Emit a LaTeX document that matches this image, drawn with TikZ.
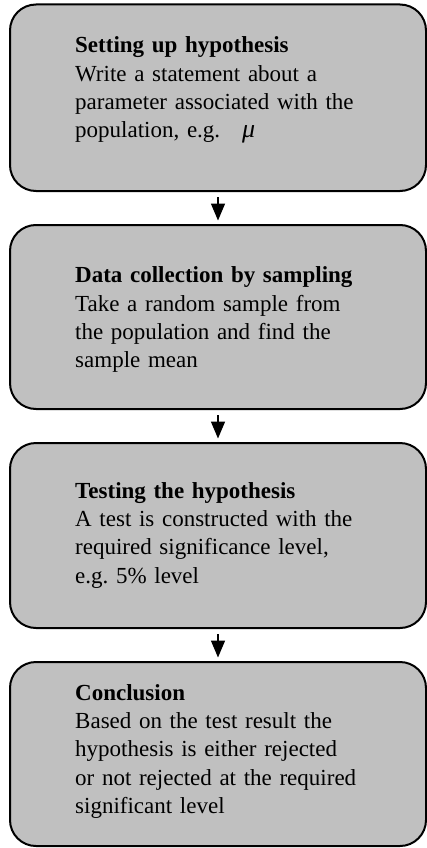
\documentclass[tikz,border=0pt]{standalone}
\usepackage{fontspec}
\setmainfont{Liberation Serif}
\usetikzlibrary{arrows.meta}
\definecolor{boxgray}{RGB}{192,192,192}
\frenchspacing
\tikzset{
  flowbox/.style={draw=black, line width=2pt, fill=boxgray, rounded corners=26pt,
    minimum width=416pt, anchor=north west, inner sep=0pt},
  boxtext/.style={anchor=base west, inner sep=0pt, text width=345pt, align=left,
    font=\fontsize{23pt}{28.4pt}\selectfont\frenchspacing},
  flowarrow/.style={line width=1.5pt, -{Triangle[length=17pt,width=14pt]},
    shorten <=5pt, shorten >=3.5pt}
}
\begin{document}
\begin{tikzpicture}[x=1pt,y=1pt]
\useasboundingbox (0,0) rectangle (427,-848);
\node[flowbox, minimum height=186.5pt] (b1) at (9,-3.5) {};
\node[flowbox, minimum height=184pt] (b2) at (9,-224) {};
\node[flowbox, minimum height=185pt] (b3) at (9,-442) {};
\node[flowbox, minimum height=184pt] (b4) at (9,-661) {};
\node[boxtext] (t1) at (75,-52.7) {\textbf{Setting up hypothesis}\\Write a statement about a\\parameter associated with the\\population, e.g.\hspace{22pt}{\fontsize{26pt}{28.4pt}\selectfont\textit{μ}}};
\node[boxtext] (t2) at (75,-282.7) {\textbf{Data collection by sampling}\\Take a random sample from\\the population and find the\\sample mean};
\node[boxtext] (t3) at (75,-498) {\textbf{Testing the hypothesis}\\A test is constructed with the\\required significance level,\\e.g. 5\% level};
\node[boxtext] (t4) at (75,-700) {\textbf{Conclusion}\\Based on the test result the\\hypothesis is either rejected\\or not rejected at the required\\significant level};
\draw[flowarrow] (b1.south) -- (b2.north);
\draw[flowarrow] (b2.south) -- (b3.north);
\draw[flowarrow] (b3.south) -- (b4.north);
\end{tikzpicture}
\end{document}
